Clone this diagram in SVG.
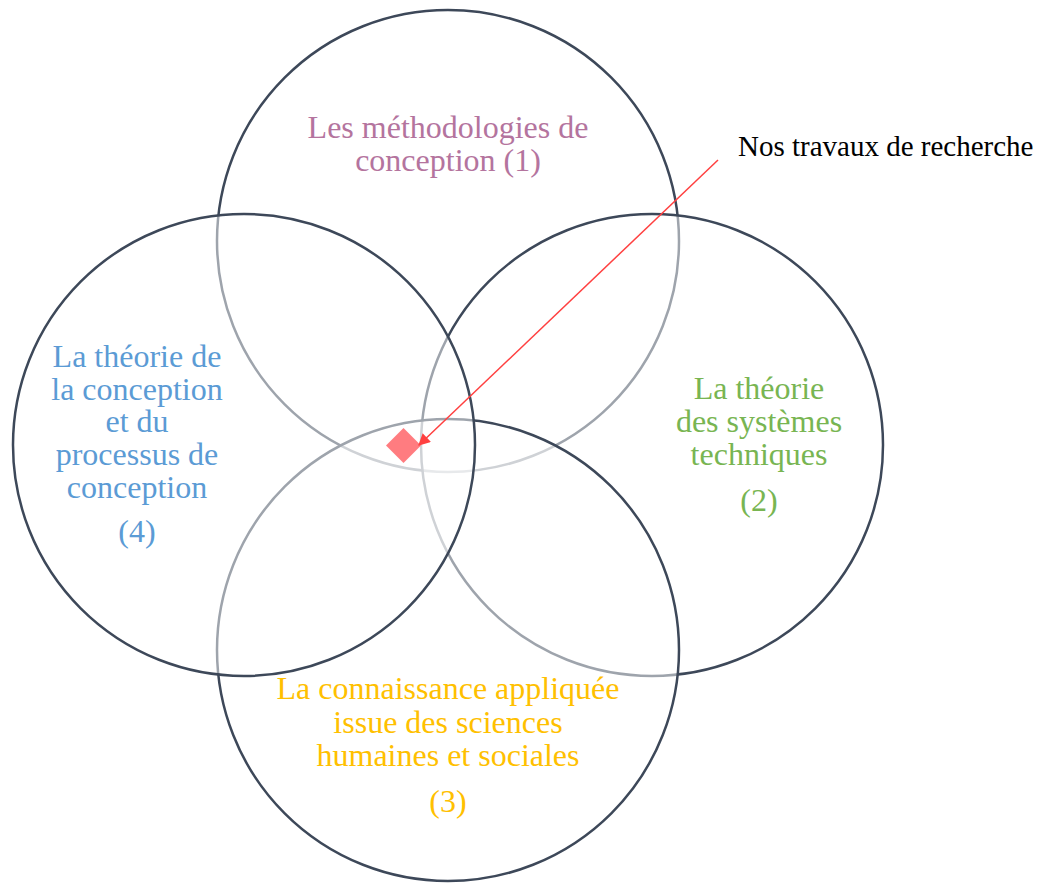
<svg xmlns="http://www.w3.org/2000/svg" width="1046" height="883" viewBox="0 0 1046 883">
<defs>
<style>
.c{fill:#ffffff;fill-opacity:0.5;stroke:#3d4859;stroke-width:2.5}
.t{font-family:"Liberation Serif","Times New Roman",serif;font-size:32px;text-anchor:middle}
.pink{fill:#b4749e}
.blue{fill:#5b9bd5}
.green{fill:#78b552}
.yellow{fill:#ffc000}
</style>
<marker id="ah" viewBox="0 0 10 10" refX="9" refY="5" markerWidth="9" markerHeight="8" orient="auto" markerUnits="strokeWidth">
<path d="M0,0 L10,5 L0,10 z" fill="#ff4040"/>
</marker>
</defs>
<rect width="1046" height="883" fill="#ffffff"/>
<g id="circle-top"><circle class="c" cx="448" cy="241" r="231"/></g>
<g id="circle-right"><circle class="c" cx="652" cy="445" r="231"/></g>
<g id="circle-bottom"><circle class="c" cx="448" cy="650" r="231"/></g>
<g id="circle-left"><circle class="c" cx="244" cy="445" r="231"/></g>
<g id="label-1">
<text class="t pink" x="448" y="138">Les méthodologies de</text>
<text class="t pink" x="448" y="171">conception (1)</text>
</g>
<g id="label-4">
<text class="t blue" x="137" y="367">La théorie de</text>
<text class="t blue" x="137" y="399.5">la conception</text>
<text class="t blue" x="137" y="432">et du</text>
<text class="t blue" x="137" y="464.5">processus de</text>
<text class="t blue" x="137" y="498">conception</text>
<text class="t blue" x="137" y="542">(4)</text>
</g>
<g id="label-2">
<text class="t green" x="759" y="399">La théorie</text>
<text class="t green" x="759" y="432">des systèmes</text>
<text class="t green" x="759" y="465">techniques</text>
<text class="t green" x="759" y="511">(2)</text>
</g>
<g id="label-3">
<text class="t yellow" x="448" y="699">La connaissance appliquée</text>
<text class="t yellow" x="448" y="733">issue des sciences</text>
<text class="t yellow" x="448" y="766">humaines et sociales</text>
<text class="t yellow" x="448" y="812">(3)</text>
</g>
<g id="research-marker">
<polygon points="403.5,428 421,445.5 403.5,463 386,445.5" fill="#ff7c80"/>
</g>
<g id="callout">
<text x="738" y="156" font-family="'Liberation Serif','Times New Roman',serif" font-size="29px" fill="#000000">Nos travaux de recherche</text>
</g>
<g id="connectors">
<line x1="718" y1="160" x2="419" y2="445" stroke="#ff4040" stroke-width="1.5" marker-end="url(#ah)"/>
</g>
</svg>
